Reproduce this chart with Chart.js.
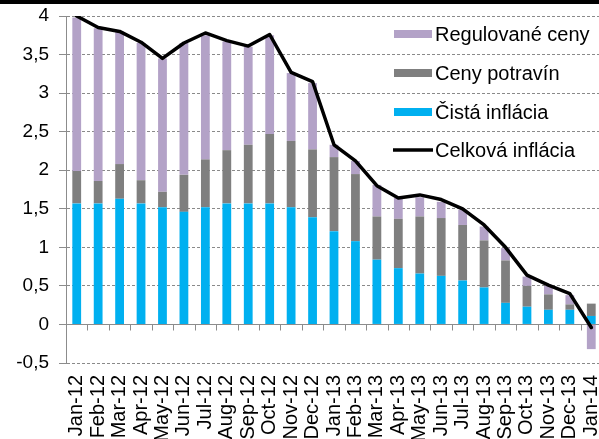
<!DOCTYPE html>
<html>
<head>
<meta charset="utf-8">
<script src="https://cdn.jsdelivr.net/npm/chart.js@4.4.1/dist/chart.umd.min.js"></script>
<style>
  html, body { margin: 0; padding: 0; background: #fff; overflow: hidden; }
  #wrap { position: relative; width: 603px; height: 439px; }
  #band { position: absolute; left: 0; top: 0; width: 603px; height: 4px; background: #000; z-index: 2; }
  canvas { position: absolute; left: 0; top: 0; }
</style>
</head>
<body>
<div id="wrap">
  <div id="band"></div>
  <canvas id="c" width="603" height="439"></canvas>
</div>
<script>
const categories = ['Jan-12','Feb-12','Mar-12','Apr-12','May-12','Jun-12','Jul-12','Aug-12','Sep-12','Oct-12','Nov-12','Dec-12',
                    'Jan-13','Feb-13','Mar-13','Apr-13','May-13','Jun-13','Jul-13','Aug-13','Sep-13','Oct-13','Nov-13','Dec-13','Jan-14'];
const cistaInflacia = [1.57,1.57,1.63,1.57,1.52,1.46,1.52,1.57,1.57,1.57,1.52,1.39,1.21,1.08,0.84,0.73,0.66,0.63,0.57,0.48,0.28,0.23,0.19,0.19,0.11];
const cenyPotravin  = [0.42,0.29,0.45,0.30,0.20,0.48,0.62,0.69,0.76,0.90,0.86,0.88,0.96,0.87,0.56,0.64,0.74,0.75,0.72,0.61,0.55,0.27,0.20,0.07,0.16];
const regulovaneCeny = [1.99,1.98,1.72,1.78,1.73,1.71,1.61,1.41,1.27,1.28,0.88,0.86,0.16,0.17,0.41,0.27,0.25,0.21,0.20,0.18,0.16,0.12,0.11,0.12,-0.32];
const celkovaInflacia = [4.00,3.85,3.80,3.66,3.45,3.65,3.78,3.68,3.61,3.76,3.27,3.15,2.33,2.12,1.80,1.64,1.68,1.62,1.50,1.29,1.00,0.64,0.51,0.40,-0.04];

const FONT = "'Liberation Sans', Arial, sans-serif";
const AXIS_COLOR = '#8c8c8c';

const zeroAxisPlugin = {
  id: 'zeroAxis',
  beforeDatasetsDraw(chart) {
    const {ctx, chartArea, scales: {x, y}} = chart;
    const y0 = Math.round(y.getPixelForValue(0)) + 0.5;
    ctx.save();
    ctx.setLineDash([]);
    ctx.strokeStyle = AXIS_COLOR;
    ctx.lineWidth = 1;
    ctx.beginPath();
    ctx.moveTo(chartArea.left, y0);
    ctx.lineTo(chartArea.right, y0);
    const w = (x.getPixelForValue(1) - x.getPixelForValue(0));
    for (let i = 0; i <= categories.length; i++) {
      const px = Math.round(x.getPixelForValue(i) - w / 2) + 0.5;
      ctx.moveTo(px, y0);
      ctx.lineTo(px, y0 + 6);
    }
    ctx.stroke();
    ctx.restore();
  }
};

const legendPlugin = {
  id: 'customLegend',
  afterDraw(chart) {
    const {ctx} = chart;
    const ds = chart.data.datasets;
    const order = [ds[3], ds[2], ds[1], ds[0]];
    const rows = [34, 73, 112, 150];
    ctx.save();
    ctx.font = '20px ' + FONT;
    ctx.textBaseline = 'middle';
    order.forEach((d, i) => {
      const cy = rows[i];
      if (d.type === 'line') {
        ctx.strokeStyle = d.borderColor;
        ctx.lineWidth = 3.5;
        ctx.beginPath();
        ctx.moveTo(393, cy);
        ctx.lineTo(433, cy);
        ctx.stroke();
      } else {
        ctx.fillStyle = d.backgroundColor;
        ctx.fillRect(394, cy - 4, 38, 8);
      }
      ctx.fillStyle = '#000';
      ctx.fillText(d.label, 435, cy + 1);
    });
    ctx.restore();
  }
};

new Chart(document.getElementById('c'), {
  type: 'bar',
  data: {
    labels: categories,
    datasets: [
      { type: 'line', label: 'Celková inflácia', data: celkovaInflacia, borderColor: '#000', backgroundColor: '#000',
        borderWidth: 3.5, pointRadius: 0, tension: 0, borderJoinStyle: 'round', borderCapStyle: 'round', order: 0 },
      { label: 'Čistá inflácia', data: cistaInflacia, backgroundColor: '#00B0F0', stack: 's', order: 1 },
      { label: 'Ceny potravín', data: cenyPotravin, backgroundColor: '#7F7F7F', stack: 's', order: 2 },
      { label: 'Regulované ceny', data: regulovaneCeny, backgroundColor: '#B3A2C7', stack: 's', order: 3 }
    ]
  },
  options: {
    responsive: false,
    devicePixelRatio: 1,
    animation: false,
    layout: { padding: { top: 16, left: 0, right: 1, bottom: 0 } },
    datasets: { bar: { barPercentage: 0.41, categoryPercentage: 1.0 } },
    plugins: { legend: { display: false }, tooltip: { enabled: false } },
    scales: {
      x: {
        stacked: true,
        grid: { display: false, drawTicks: false },
        border: { display: false },
        ticks: { minRotation: 90, maxRotation: 90, autoSkip: false, padding: 12, color: '#000',
                 font: { family: FONT, size: 20 } },
        afterFit(scale) {
          scale.height = 76;
          scale.paddingLeft = 0; scale.paddingRight = 0;
        }
      },
      y: {
        stacked: true,
        min: -0.5, max: 4,
        grid: { color: '#8a8a8a', lineWidth: 1, tickLength: 7, tickColor: AXIS_COLOR },
        border: { display: true, color: AXIS_COLOR, width: 1, dash: [3, 2] },
        ticks: { stepSize: 0.5, padding: 10, color: '#000', font: { family: FONT, size: 19 },
                 callback: v => String(v).replace('.', ',') },
        afterFit(scale) {
          scale.width = 66;
          scale.paddingTop = 0; scale.paddingBottom = 0;
        }
      }
    }
  },
  plugins: [zeroAxisPlugin, legendPlugin]
});
</script>
</body>
</html>
